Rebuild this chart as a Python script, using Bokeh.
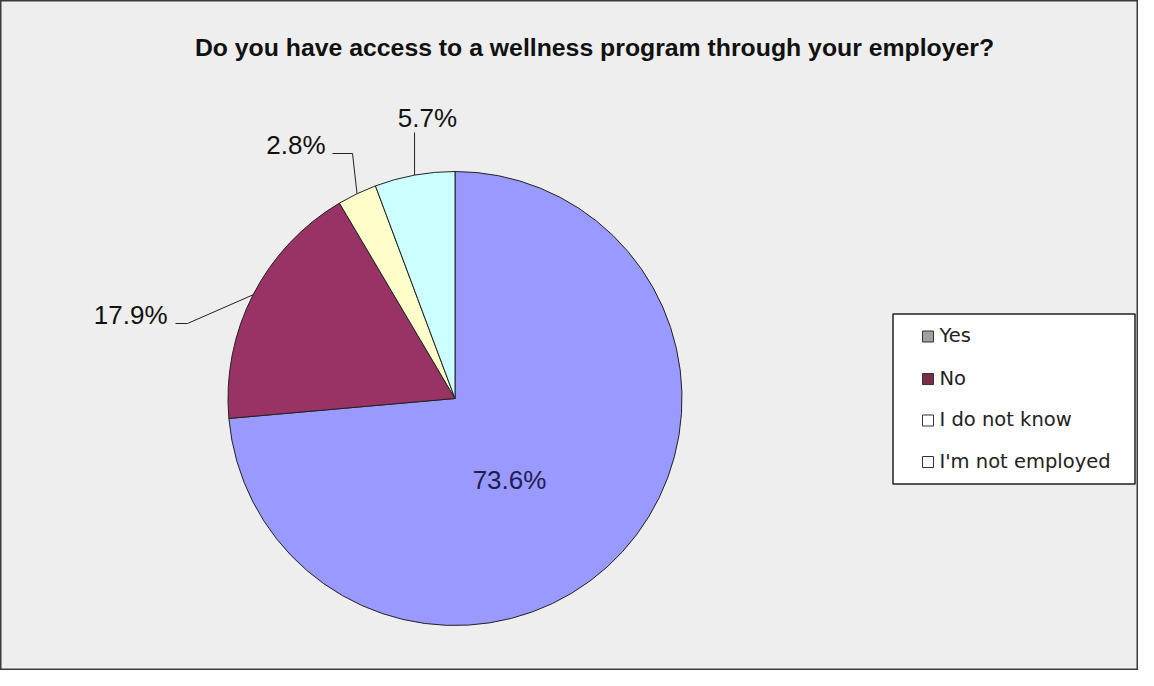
import math
from bokeh.plotting import figure
from bokeh.models import Range1d
from bokeh.core.properties import value
from bokeh.embed import file_html
from bokeh.resources import INLINE

# ---------------- data ----------------
title_text = "Do you have access to a wellness program through your employer?"
categories = ["Yes", "No", "I do not know", "I'm not employed"]
percent = [73.6, 17.9, 2.8, 5.7]
slice_colors = ["#9999FF", "#993366", "#FFFFCC", "#CCFFFF"]
legend_swatch = ["#A0A0A0", "#7A2C4C", "#FFFFFF", "#FFFFFF"]

# ---------------- layout (screen px of the reference) ----------------
W, H = 1138, 670


def fx(sx):
    return sx


def fy(sy):
    return H - sy


CX, CY, R = 454.5, 398.0, 227.0
# label anchors: (x, centre y, align, elbow point or None, line end point or None)
label_layout = [
    (509, 479, "center", None, None),
    (167, 314.5, "right", (187, 323), (175, 323)),
    (325, 144.5, "right", (352, 153), (332, 153)),
    (427, 117, "center", None, (None, 132)),
]

p = figure(width=W, height=H, x_range=Range1d(0, W), y_range=Range1d(0, H),
           output_backend="svg", toolbar_location=None,
           x_axis_location=None, y_axis_location=None, min_border=0,
           background_fill_color="#EEEEEE", border_fill_color="#EEEEEE",
           outline_line_color="#3A3A3A", outline_line_width=2)
p.grid.visible = False

# ---------------- pie ----------------
total = sum(percent)
starts, ends, mids = [], [], []
cum = 0.0
for v in percent:
    a0 = 90 - cum / total * 360.0          # clockwise start
    a1 = 90 - (cum + v) / total * 360.0    # clockwise end
    starts.append(math.radians(a1))
    ends.append(math.radians(a0))
    mids.append(math.radians((a0 + a1) / 2))
    cum += v

p.wedge(x=fx(CX), y=fy(CY), radius=R, start_angle=starts, end_angle=ends,
        fill_color=slice_colors, line_color="#222222", line_width=1)

# ---------------- data labels & leaders ----------------
for i, v in enumerate(percent):
    lx, ly, align, elbow, end = label_layout[i]
    col = "#202050" if i == 0 else "#111111"
    p.text(x=[fx(lx)], y=[fy(ly)], text=[f"{v:.1f}%"], text_align=align,
           text_baseline="middle", text_font=value("Liberation Sans"),
           text_font_size="26px", text_color=col)
    if end is not None:
        ex = CX + R * math.cos(mids[i])
        ey = CY - R * math.sin(mids[i])
        xs, ys = [ex], [ey]
        if elbow is not None:
            xs.append(elbow[0]); ys.append(elbow[1])
        xs.append(end[0] if end[0] is not None else ex)
        ys.append(end[1])
        p.line(x=[fx(a) for a in xs], y=[fy(b) for b in ys],
               line_color="#222222", line_width=1)

# ---------------- title ----------------
p.text(x=[fx(594)], y=[fy(46.5)], text=[title_text], text_align="center",
       text_baseline="middle", text_font=value("Liberation Sans"),
       text_font_style="bold", text_font_size="24.8px", text_color="#111111")

# ---------------- legend ----------------
LX0, LX1, LY0, LY1 = 892.5, 1134.5, 313.5, 483.5
p.quad(left=fx(LX0), right=fx(LX1), top=fy(LY0), bottom=fy(LY1),
       fill_color="#FFFFFF", line_color="#222222", line_width=1.5)
row_mid = [335, 377.5, 419, 460.5]
p.rect(x=[fx(LX0 + 35)] * len(categories), y=[fy(m + 1) for m in row_mid],
       width=11, height=11, fill_color=legend_swatch, line_color="#333333",
       line_width=1)
p.text(x=[fx(LX0 + 46.5)] * len(categories), y=[fy(m) for m in row_mid],
       text=categories, text_align="left", text_baseline="middle",
       text_font=value("DejaVu Sans"), text_font_size="19.5px",
       text_color="#222222")

open("out.html", "w").write(file_html(p, INLINE))
